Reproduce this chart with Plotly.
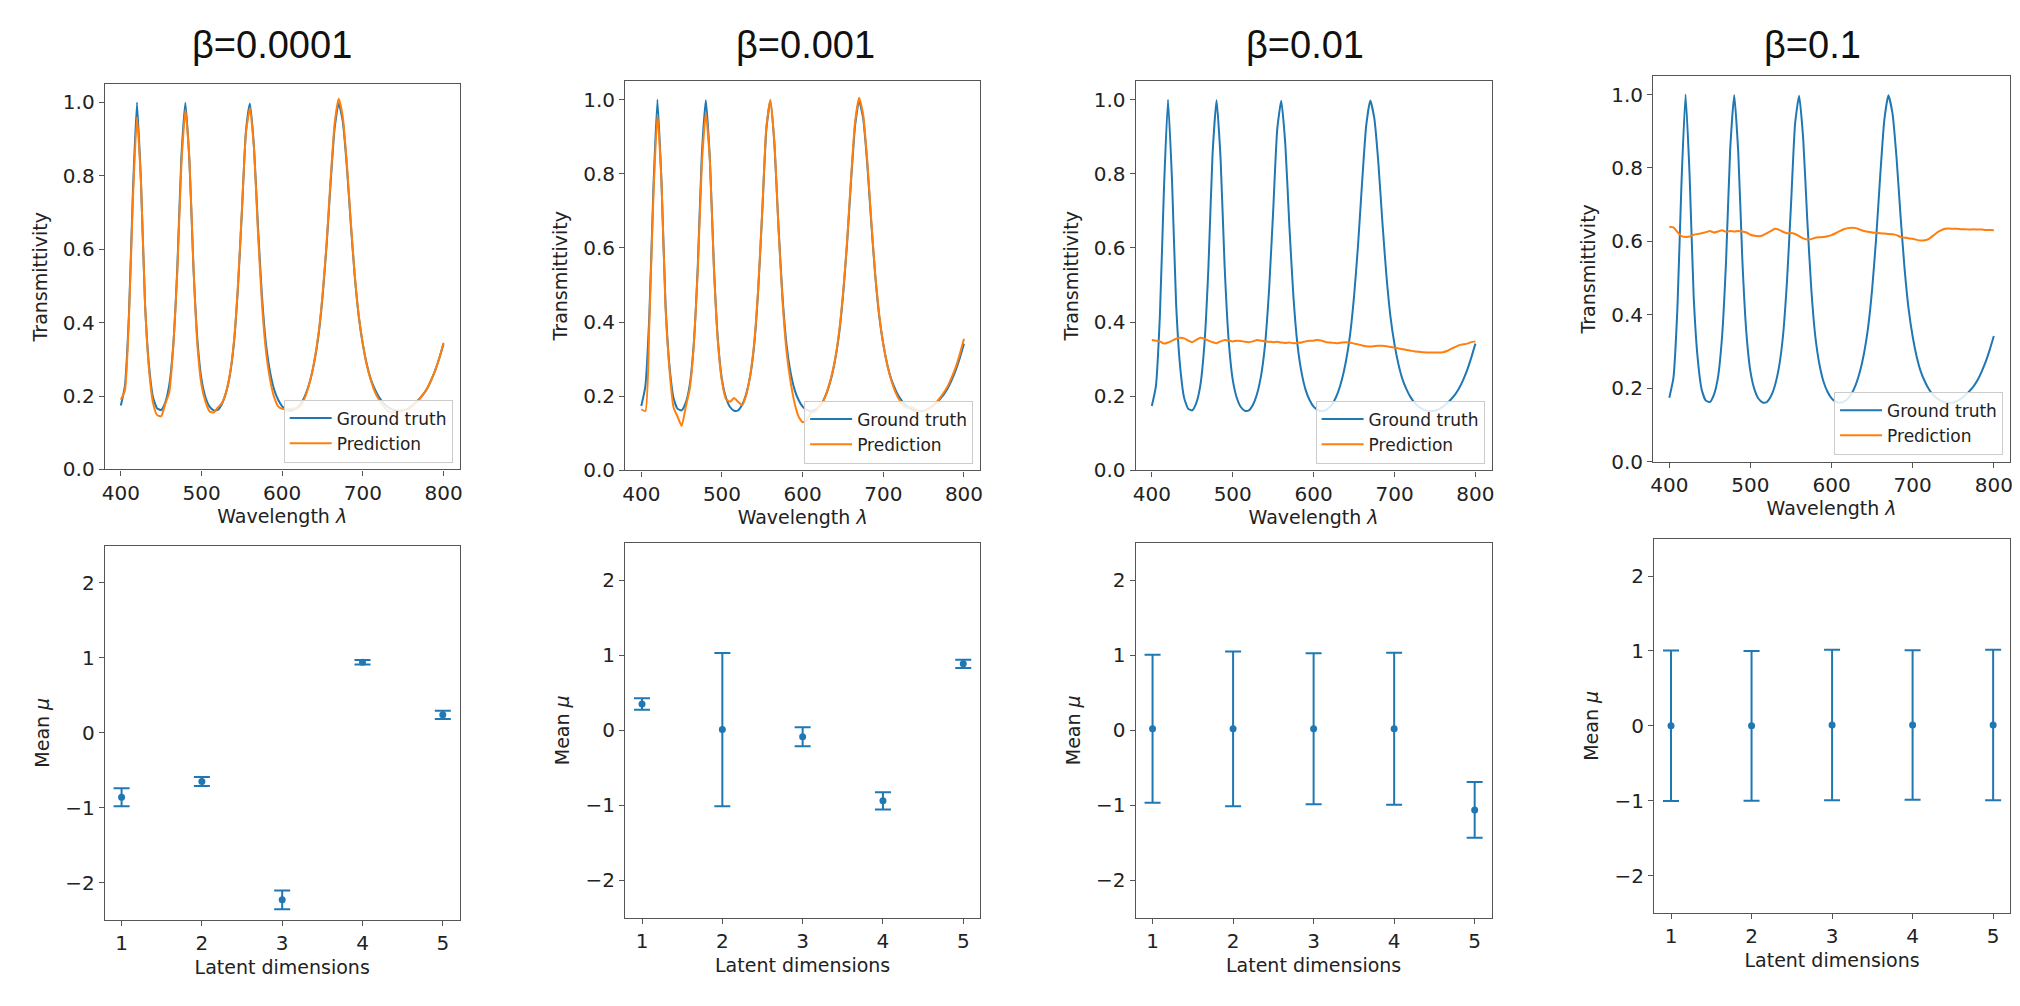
"""Transmittivity spectra and latent means for four beta values (2x4 panel grid)."""

import plotly.graph_objects as go

W, H = 2020, 1006

BETAS = ["β=0.0001", "β=0.001", "β=0.01", "β=0.1"]

# wavelength grid, 5 nm steps
WAVELENGTH = list(range(400, 805, 5))

GROUND_TRUTH = [
    0.174, 0.227, 0.420, 0.760, 1.000, 0.780, 0.450, 0.280, 0.195, 0.166,
    0.162, 0.182, 0.230, 0.340, 0.550, 0.850, 0.999, 0.840, 0.550, 0.350,
    0.245, 0.196, 0.171, 0.161, 0.162, 0.177, 0.206, 0.255, 0.340, 0.490,
    0.700, 0.920, 0.997, 0.880, 0.660, 0.470, 0.340, 0.265, 0.218, 0.190,
    0.172, 0.163, 0.160, 0.163, 0.171, 0.186, 0.210, 0.245, 0.295, 0.365,
    0.470, 0.610, 0.780, 0.930, 0.998, 0.950, 0.830, 0.670, 0.525, 0.415,
    0.340, 0.285, 0.245, 0.218, 0.197, 0.182, 0.172, 0.165, 0.161, 0.160,
    0.161, 0.165, 0.172, 0.181, 0.192, 0.205, 0.222, 0.245, 0.272, 0.305,
    0.342,
]

PRED_B0001 = [
    0.190, 0.215, 0.410, 0.740, 0.960, 0.780, 0.450, 0.270, 0.180, 0.148,
    0.145, 0.178, 0.210, 0.335, 0.540, 0.830, 0.980, 0.845, 0.550, 0.335,
    0.230, 0.184, 0.158, 0.155, 0.168, 0.180, 0.208, 0.258, 0.345, 0.495,
    0.705, 0.915, 0.985, 0.875, 0.645, 0.450, 0.320, 0.245, 0.197, 0.172,
    0.165, 0.164, 0.165, 0.166, 0.168, 0.180, 0.207, 0.245, 0.298, 0.370,
    0.476, 0.615, 0.790, 0.942, 1.010, 0.962, 0.838, 0.676, 0.528, 0.418,
    0.343, 0.283, 0.242, 0.211, 0.190, 0.173, 0.162, 0.155, 0.157, 0.158,
    0.160, 0.163, 0.170, 0.180, 0.192, 0.205, 0.222, 0.245, 0.272, 0.305,
    0.345,
]

PRED_B001 = [
    0.165, 0.160, 0.400, 0.740, 0.960, 0.780, 0.440, 0.270, 0.170, 0.145,
    0.120, 0.170, 0.220, 0.335, 0.540, 0.825, 0.965, 0.835, 0.545, 0.345,
    0.240, 0.192, 0.185, 0.195, 0.185, 0.176, 0.203, 0.257, 0.345, 0.495,
    0.705, 0.925, 1.000, 0.885, 0.655, 0.460, 0.322, 0.240, 0.182, 0.145,
    0.130, 0.135, 0.155, 0.158, 0.170, 0.185, 0.212, 0.248, 0.297, 0.370,
    0.476, 0.615, 0.790, 0.940, 1.005, 0.960, 0.838, 0.676, 0.528, 0.418,
    0.340, 0.283, 0.242, 0.211, 0.190, 0.175, 0.168, 0.172, 0.165, 0.158,
    0.160, 0.165, 0.172, 0.182, 0.195, 0.210, 0.228, 0.252, 0.280, 0.315,
    0.355,
]

PRED_B01 = [
    0.352, 0.350, 0.348, 0.342, 0.345, 0.350, 0.355, 0.358, 0.356, 0.350,
    0.346, 0.352, 0.358, 0.355, 0.350, 0.346, 0.343, 0.348, 0.352, 0.350,
    0.348, 0.350, 0.349, 0.347, 0.346, 0.348, 0.352, 0.350, 0.348, 0.347,
    0.346, 0.347, 0.345, 0.344, 0.345, 0.343, 0.344, 0.345, 0.348, 0.350,
    0.350, 0.352, 0.350, 0.346, 0.345, 0.344, 0.343, 0.345, 0.346, 0.345,
    0.342, 0.340, 0.337, 0.335, 0.334, 0.335, 0.336, 0.336, 0.335, 0.333,
    0.331, 0.329, 0.327, 0.325, 0.323, 0.321, 0.320, 0.319, 0.318, 0.318,
    0.318, 0.318, 0.319, 0.322, 0.328, 0.333, 0.338, 0.340, 0.342, 0.346,
    0.348,
]

PRED_B1 = [
    0.640, 0.638, 0.625, 0.614, 0.612, 0.613, 0.618, 0.620, 0.622, 0.625,
    0.628, 0.624, 0.627, 0.630, 0.626, 0.628, 0.627, 0.628, 0.627, 0.624,
    0.618, 0.615, 0.614, 0.616, 0.622, 0.628, 0.634, 0.632, 0.626, 0.622,
    0.623, 0.620, 0.614, 0.608, 0.605, 0.606, 0.610, 0.611, 0.612, 0.614,
    0.617, 0.622, 0.628, 0.633, 0.636, 0.637, 0.636, 0.632, 0.628, 0.626,
    0.624, 0.623, 0.622, 0.621, 0.620, 0.619, 0.617, 0.612, 0.610, 0.608,
    0.607, 0.604, 0.602, 0.603, 0.607, 0.615, 0.624, 0.630, 0.634, 0.635,
    0.634, 0.634, 0.633, 0.633, 0.632, 0.633, 0.632, 0.632, 0.631, 0.631,
    0.630,
]

PREDICTIONS = [PRED_B0001, PRED_B001, PRED_B01, PRED_B1]

LATENT_DIMS = [1, 2, 3, 4, 5]
MEAN_B0001 = [-0.86, -0.65, -2.23, 0.94, 0.24]
ERR_B0001 = [0.12, 0.06, 0.125, 0.03, 0.055]
MEAN_B001 = [0.35, 0.01, -0.085, -0.94, 0.885]
ERR_B001 = [0.075, 1.02, 0.127, 0.115, 0.055]
MEAN_B01 = [0.02, 0.02, 0.02, 0.02, -1.06]
ERR_B01 = [0.985, 1.03, 1.005, 1.013, 0.37]
MEAN_B1 = [0.0, 0.0, 0.01, 0.01, 0.01]
ERR_B1 = [1.005, 1.0, 1.005, 0.998, 1.005]

MEANS = [MEAN_B0001, MEAN_B001, MEAN_B01, MEAN_B1]
ERRORS = [ERR_B0001, ERR_B001, ERR_B01, ERR_B1]

BLUE = "#1f77b4"
ORANGE = "#ff7f0e"
FONT = "DejaVu Sans"
SPINE = "#555555"

# panel boxes in pixels: (left, right, top, bottom)
TOP_BOXES = [(94, 450, 77, 467), (616, 972, 74, 468), (1128, 1485, 74, 468), (1647, 2005, 69, 459)]
BOTTOM_BOXES = [(94, 450, 544, 923), (616, 972, 541, 921), (1128, 1485, 541, 921), (1648, 2005, 537, 916)]
TITLE_X = [262, 797, 1298, 1807]


def px_x(v):
    return v / W


def px_y(v):
    return 1 - v / H


def axis_style(**extra):
    base = dict(
        showline=True, mirror=True, linecolor=SPINE, linewidth=1.2,
        ticks="outside", ticklen=5, tickwidth=1.2, tickcolor=SPINE,
        showgrid=False, zeroline=False,
        tickfont=dict(family=FONT, size=20, color="#222"),
        title_font=dict(family=FONT, size=19, color="#222"),
        fixedrange=True,
    )
    base.update(extra)
    return base


fig = go.Figure()
layout = {}

for i in range(4):
    tx = 2 * i + 1
    bx = 2 * i + 2
    sfx_t = "" if tx == 1 else str(tx)
    legend_name = "legend" if i == 0 else f"legend{i + 1}"

    fig.add_trace(go.Scatter(
        x=WAVELENGTH, y=GROUND_TRUTH, mode="lines", name="Ground truth",
        line=dict(color=BLUE, width=2, shape="spline", smoothing=0.5),
        xaxis=f"x{sfx_t}", yaxis=f"y{sfx_t}", legend=legend_name,
    ))
    fig.add_trace(go.Scatter(
        x=WAVELENGTH, y=PREDICTIONS[i], mode="lines", name="Prediction",
        line=dict(color=ORANGE, width=2, shape="spline", smoothing=0.5),
        xaxis=f"x{sfx_t}", yaxis=f"y{sfx_t}", legend=legend_name,
    ))
    fig.add_trace(go.Scatter(
        x=LATENT_DIMS, y=MEANS[i], mode="markers", showlegend=False,
        marker=dict(color=BLUE, size=7),
        error_y=dict(type="data", array=ERRORS[i], color=BLUE, thickness=2, width=8),
        xaxis=f"x{bx}", yaxis=f"y{bx}",
    ))

    l, r, t, b = TOP_BOXES[i]
    layout[f"xaxis{sfx_t}"] = axis_style(
        domain=[px_x(l), px_x(r)], anchor=f"y{sfx_t}", range=[380, 820],
        tickvals=[400, 500, 600, 700, 800],
        title=dict(text="Wavelength <i>λ</i>", standoff=6),
    )
    layout[f"yaxis{sfx_t}"] = axis_style(
        domain=[px_y(b), px_y(t)], anchor=f"x{sfx_t}", range=[0, 1.05],
        tickvals=[0, 0.2, 0.4, 0.6, 0.8, 1.0],
        ticktext=["0.0", "0.2", "0.4", "0.6", "0.8", "1.0"],
        title=dict(text="Transmittivity", standoff=10),
    )
    layout[legend_name] = dict(
        x=px_x(r - 7), y=px_y(b - 7), xanchor="right", yanchor="bottom",
        xref="paper", yref="paper",
        bgcolor="rgba(255,255,255,0.85)", bordercolor="#cccccc", borderwidth=1,
        font=dict(family=FONT, size=17, color="#222"),
        tracegroupgap=0, itemwidth=42,
    )

    l, r, t, b = BOTTOM_BOXES[i]
    layout[f"xaxis{bx}"] = axis_style(
        domain=[px_x(l), px_x(r)], anchor=f"y{bx}", range=[0.79, 5.21],
        tickvals=LATENT_DIMS,
        title=dict(text="Latent dimensions", standoff=6),
    )
    layout[f"yaxis{bx}"] = axis_style(
        domain=[px_y(b), px_y(t)], anchor=f"x{bx}", range=[-2.5, 2.5],
        tickvals=[-2, -1, 0, 1, 2], ticktext=["−2", "−1", "0", "1", "2"],
        title=dict(text="Mean <i>μ</i>", standoff=10),
    )

annotations = [
    dict(text=BETAS[i], x=px_x(TITLE_X[i]), y=px_y(37), xref="paper", yref="paper",
         showarrow=False, xanchor="center", yanchor="middle",
         font=dict(family="Liberation Sans", size=38, color="#111"))
    for i in range(4)
]

fig.update_layout(
    width=W, height=H, autosize=False,
    margin=dict(l=0, r=0, t=0, b=0),
    paper_bgcolor="white", plot_bgcolor="white",
    annotations=annotations,
    **layout,
)

fig.write_html("out.html")
